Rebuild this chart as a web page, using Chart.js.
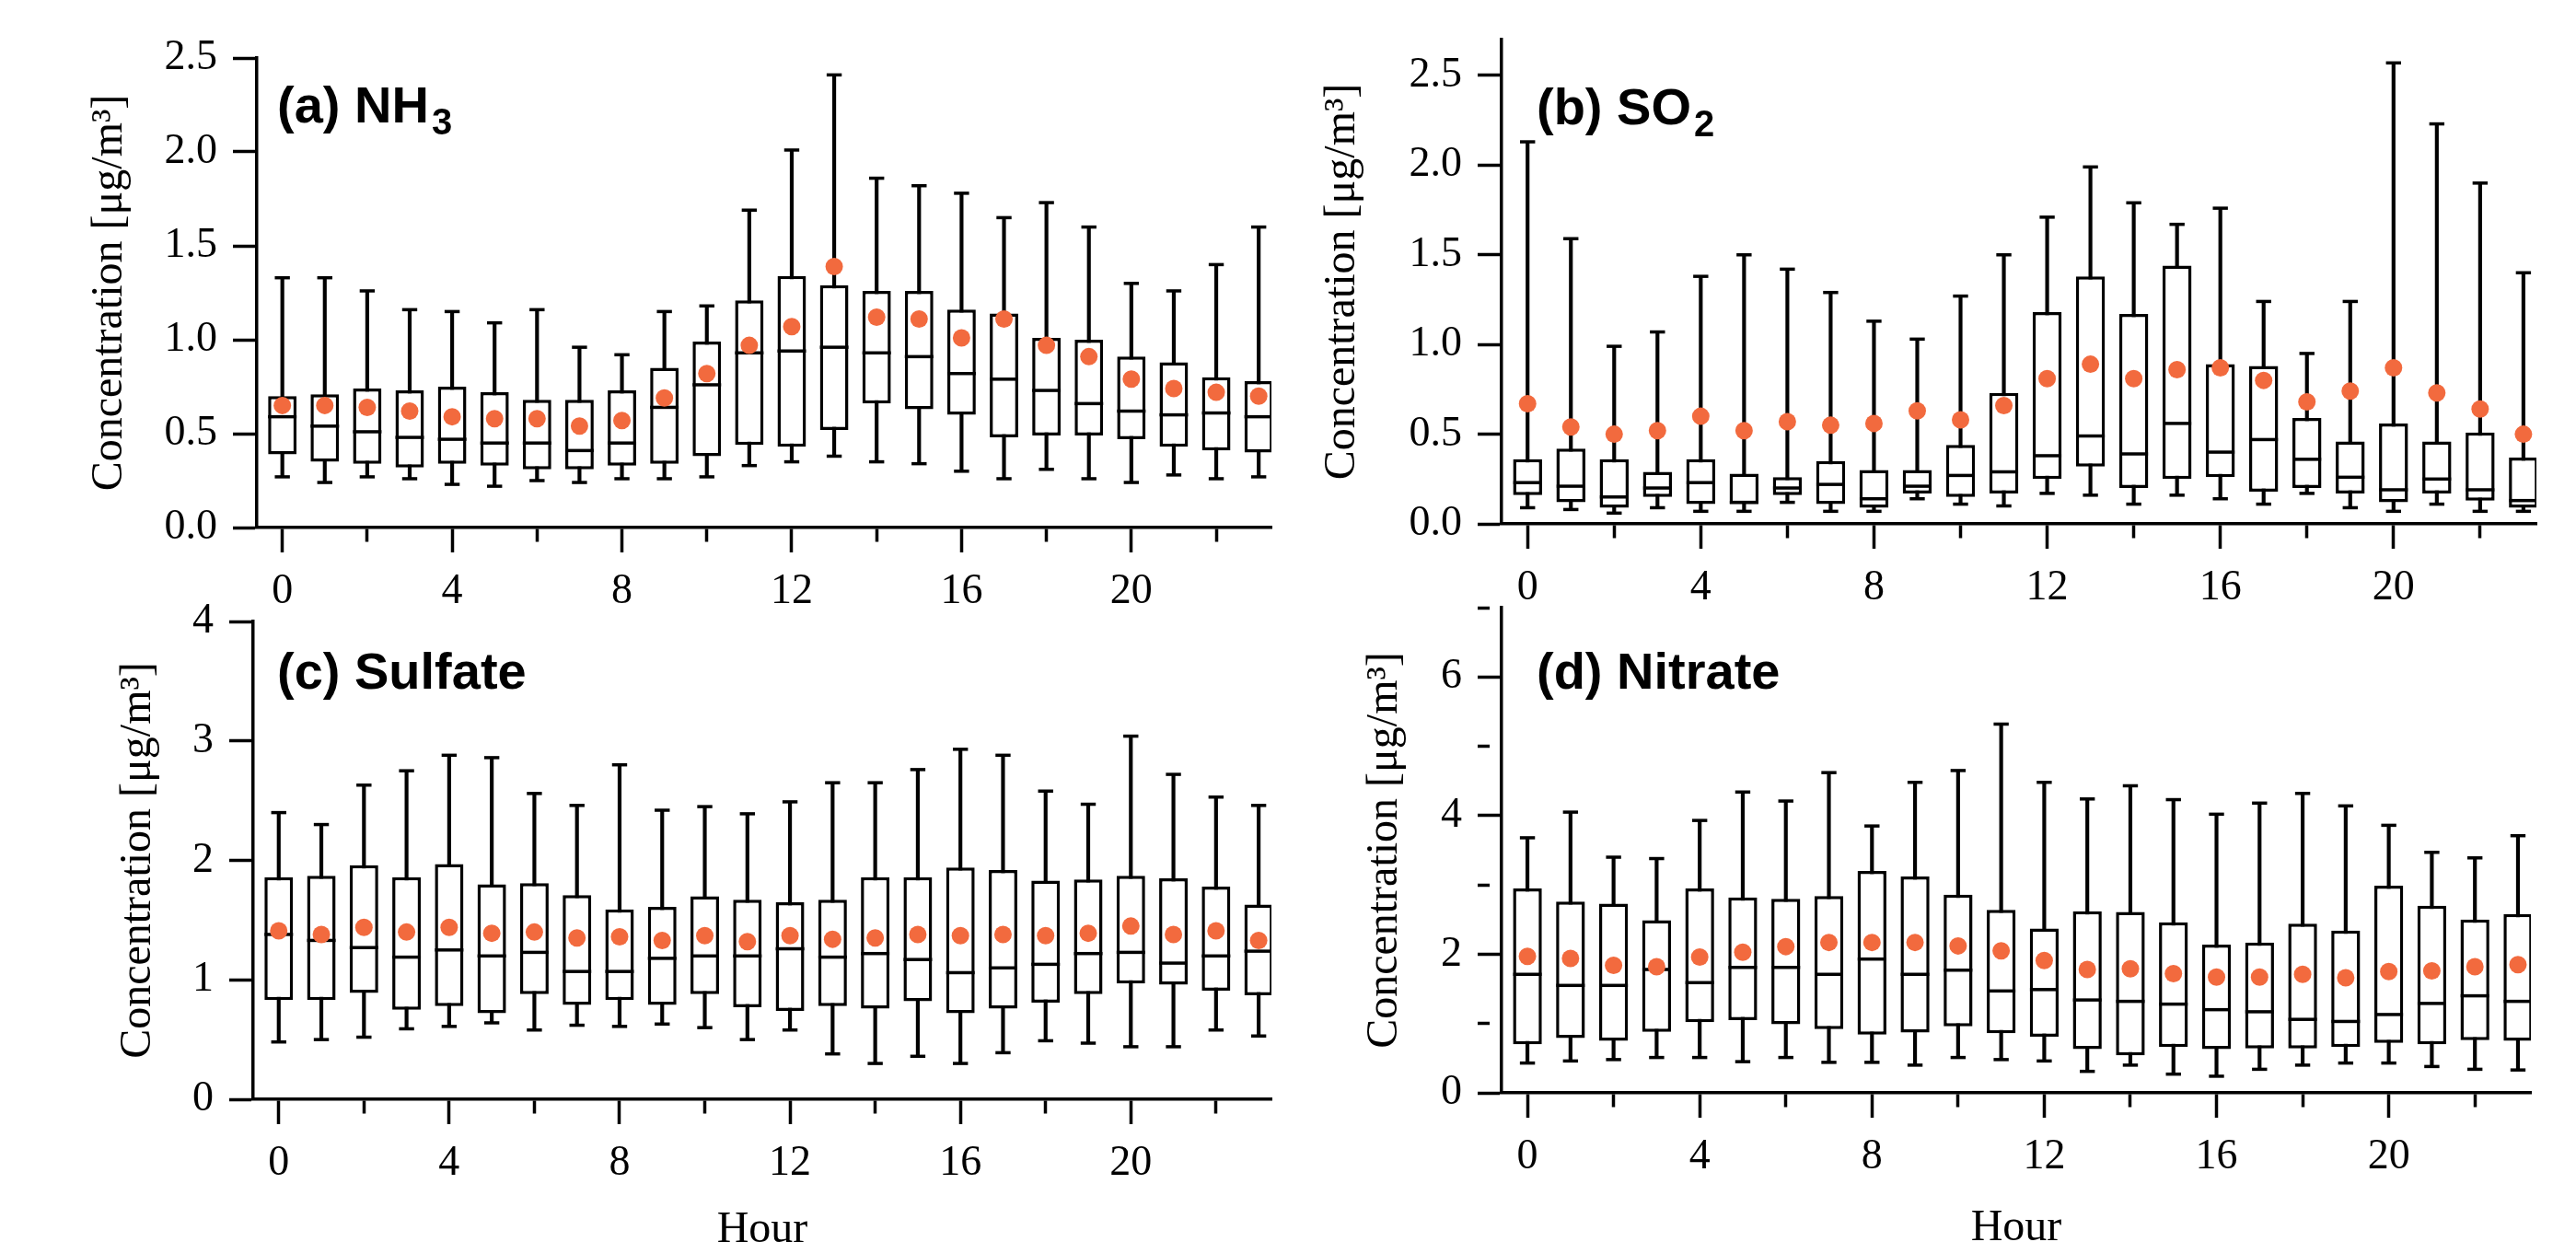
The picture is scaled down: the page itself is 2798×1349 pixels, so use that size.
<!DOCTYPE html>
<html>
<head>
<meta charset="utf-8">
<script src="https://cdn.jsdelivr.net/npm/chart.js@4"></script>
<style>
html, body { margin: 0; padding: 0; background: #fff; width: 2798px; height: 1349px; overflow: hidden; }
canvas { position: absolute; }
</style>
</head>
<body>
<canvas id="chartNH3" width="1400" height="675" style="left:0px;top:0px"></canvas>
<canvas id="chartSO2" width="1398" height="685" style="left:1400px;top:-10px"></canvas>
<canvas id="chartSulfate" width="1400" height="760" style="left:0px;top:620px"></canvas>
<canvas id="chartNitrate" width="1398" height="770" style="left:1400px;top:610px"></canvas>
<script>
var hours = [0, 1, 2, 3, 4, 5, 6, 7, 8, 9, 10, 11, 12, 13, 14, 15, 16, 17, 18, 19, 20, 21, 22, 23];

// (a) NH3
var nh3Min  = [0.27, 0.24, 0.27, 0.26, 0.23, 0.22, 0.25, 0.24, 0.26, 0.26, 0.27, 0.33, 0.35, 0.38, 0.35, 0.34, 0.30, 0.26, 0.31, 0.26, 0.24, 0.28, 0.26, 0.27];
var nh3Q1   = [0.39, 0.35, 0.34, 0.32, 0.34, 0.33, 0.31, 0.31, 0.33, 0.34, 0.38, 0.44, 0.43, 0.52, 0.66, 0.63, 0.60, 0.48, 0.49, 0.49, 0.47, 0.43, 0.41, 0.40];
var nh3Med  = [0.59, 0.54, 0.51, 0.48, 0.47, 0.45, 0.45, 0.41, 0.45, 0.64, 0.76, 0.93, 0.94, 0.96, 0.93, 0.91, 0.82, 0.79, 0.73, 0.66, 0.62, 0.60, 0.61, 0.59];
var nh3Q3   = [0.70, 0.71, 0.74, 0.73, 0.75, 0.72, 0.68, 0.68, 0.73, 0.85, 0.99, 1.21, 1.34, 1.29, 1.26, 1.26, 1.16, 1.14, 1.01, 1.00, 0.91, 0.88, 0.80, 0.78];
var nh3Max  = [1.33, 1.33, 1.26, 1.16, 1.15, 1.09, 1.16, 0.96, 0.92, 1.15, 1.18, 1.69, 2.01, 2.41, 1.86, 1.82, 1.78, 1.65, 1.73, 1.60, 1.30, 1.26, 1.40, 1.60];
var nh3Mean = [0.65, 0.65, 0.64, 0.62, 0.59, 0.58, 0.58, 0.54, 0.57, 0.69, 0.82, 0.97, 1.07, 1.39, 1.12, 1.11, 1.01, 1.11, 0.97, 0.91, 0.79, 0.74, 0.72, 0.70];

// (b) SO2
var so2Min  = [0.09, 0.08, 0.06, 0.09, 0.07, 0.07, 0.12, 0.07, 0.07, 0.14, 0.11, 0.10, 0.17, 0.16, 0.11, 0.16, 0.14, 0.11, 0.17, 0.09, 0.07, 0.11, 0.07, 0.07];
var so2Q1   = [0.16, 0.12, 0.09, 0.15, 0.11, 0.11, 0.16, 0.11, 0.09, 0.17, 0.15, 0.17, 0.25, 0.32, 0.20, 0.25, 0.26, 0.18, 0.20, 0.17, 0.12, 0.17, 0.13, 0.09];
var so2Med  = [0.23, 0.21, 0.15, 0.20, 0.23, 0.12, 0.20, 0.22, 0.14, 0.21, 0.27, 0.29, 0.38, 0.49, 0.39, 0.56, 0.40, 0.47, 0.36, 0.26, 0.19, 0.25, 0.19, 0.13];
var so2Q3   = [0.36, 0.42, 0.36, 0.29, 0.36, 0.28, 0.26, 0.35, 0.30, 0.30, 0.44, 0.73, 1.18, 1.38, 1.17, 1.44, 0.89, 0.88, 0.59, 0.46, 0.56, 0.46, 0.51, 0.37];
var so2Max  = [2.13, 1.59, 0.99, 1.07, 1.38, 1.50, 1.42, 1.29, 1.13, 1.03, 1.27, 1.50, 1.71, 1.99, 1.79, 1.67, 1.76, 1.24, 0.95, 1.24, 2.57, 2.23, 1.90, 1.40];
var so2Mean = [0.67, 0.54, 0.50, 0.52, 0.60, 0.52, 0.57, 0.55, 0.56, 0.63, 0.58, 0.66, 0.81, 0.89, 0.81, 0.86, 0.87, 0.80, 0.68, 0.74, 0.87, 0.73, 0.64, 0.50];

// (c) Sulfate
var sulMin  = [0.48, 0.50, 0.52, 0.59, 0.61, 0.64, 0.58, 0.62, 0.61, 0.63, 0.60, 0.50, 0.58, 0.38, 0.30, 0.36, 0.30, 0.39, 0.49, 0.47, 0.44, 0.44, 0.58, 0.53];
var sulQ1   = [0.83, 0.83, 0.89, 0.75, 0.78, 0.72, 0.88, 0.79, 0.83, 0.79, 0.88, 0.77, 0.74, 0.78, 0.76, 0.82, 0.72, 0.76, 0.81, 0.88, 0.97, 0.96, 0.91, 0.87];
var sulMed  = [1.38, 1.33, 1.27, 1.19, 1.25, 1.20, 1.23, 1.07, 1.07, 1.18, 1.20, 1.20, 1.26, 1.19, 1.22, 1.17, 1.06, 1.10, 1.13, 1.22, 1.23, 1.14, 1.20, 1.24];
var sulQ3   = [1.86, 1.87, 1.96, 1.86, 1.97, 1.80, 1.81, 1.71, 1.59, 1.61, 1.70, 1.67, 1.65, 1.67, 1.86, 1.86, 1.94, 1.92, 1.83, 1.84, 1.87, 1.85, 1.78, 1.63];
var sulMax  = [2.40, 2.30, 2.63, 2.75, 2.88, 2.86, 2.56, 2.46, 2.80, 2.42, 2.45, 2.39, 2.49, 2.65, 2.65, 2.76, 2.93, 2.88, 2.58, 2.47, 3.04, 2.72, 2.53, 2.46];
var sulMean = [1.41, 1.38, 1.44, 1.40, 1.44, 1.39, 1.40, 1.35, 1.36, 1.33, 1.37, 1.32, 1.37, 1.34, 1.35, 1.38, 1.37, 1.38, 1.37, 1.39, 1.45, 1.38, 1.41, 1.33];

// (d) Nitrate
var nitMin  = [0.43, 0.46, 0.48, 0.51, 0.51, 0.45, 0.51, 0.44, 0.44, 0.40, 0.51, 0.48, 0.46, 0.31, 0.40, 0.27, 0.24, 0.34, 0.40, 0.43, 0.43, 0.38, 0.34, 0.33];
var nitQ1   = [0.70, 0.79, 0.75, 0.88, 1.02, 1.05, 0.99, 0.92, 0.84, 0.87, 0.96, 0.86, 0.81, 0.63, 0.54, 0.66, 0.63, 0.64, 0.64, 0.66, 0.72, 0.70, 0.76, 0.75];
var nitMed  = [1.71, 1.55, 1.55, 1.78, 1.59, 1.81, 1.81, 1.71, 1.93, 1.71, 1.77, 1.47, 1.49, 1.34, 1.32, 1.28, 1.20, 1.17, 1.06, 1.03, 1.13, 1.29, 1.40, 1.32];
var nitQ3   = [2.95, 2.76, 2.73, 2.49, 2.95, 2.82, 2.80, 2.84, 3.20, 3.12, 2.86, 2.64, 2.37, 2.62, 2.61, 2.46, 2.14, 2.17, 2.44, 2.34, 2.99, 2.70, 2.50, 2.58];
var nitMax  = [3.68, 4.05, 3.40, 3.38, 3.93, 4.34, 4.21, 4.62, 3.85, 4.48, 4.65, 5.32, 4.48, 4.24, 4.43, 4.23, 4.02, 4.18, 4.32, 4.14, 3.86, 3.47, 3.39, 3.71];
var nitMean = [1.97, 1.94, 1.84, 1.82, 1.96, 2.03, 2.11, 2.17, 2.17, 2.17, 2.12, 2.05, 1.91, 1.78, 1.79, 1.72, 1.67, 1.67, 1.71, 1.66, 1.75, 1.76, 1.82, 1.85];

var meanColor = '#F26A3E';
var serif = "'Liberation Serif', 'Times New Roman', serif";
var lw = 3.5;

// bold panel label with a subscript, e.g. (a) NH + 3
var panelTitle = {
    id: 'panelTitle',
    afterDraw: function(chart, args, opts) {
        var ctx = chart.ctx;
        ctx.save();
        ctx.fillStyle = '#000';
        ctx.textBaseline = 'alphabetic';
        ctx.textAlign = 'left';
        ctx.font = "bold 56px 'Liberation Sans', Arial, sans-serif";
        ctx.fillText(opts.text, opts.x, opts.y);
        if (opts.sub) {
            var w = ctx.measureText(opts.text).width;
            ctx.font = "bold 40px 'Liberation Sans', Arial, sans-serif";
            ctx.fillText(opts.sub, opts.x + w + 3, opts.y + 13);
        }
        ctx.restore();
    }
};

function points(vals) {
    return hours.map(function(h, i) { return {x: h, y: vals[i]}; });
}

function ranges(lo, hi) {
    return hours.map(function(h, i) { return {x: h, y: [lo[i], hi[i]]}; });
}

function boxDatasets(lo, q1, med, q3, hi, mean) {
    return [
        { type: 'bar', label: 'whisker', data: ranges(lo, hi), backgroundColor: '#000',
          borderWidth: 0, barThickness: lw, grouped: false, order: 5 },
        { type: 'bar', label: 'box', data: ranges(q1, q3), backgroundColor: '#fff', borderColor: '#000',
          borderWidth: lw, borderSkipped: false, barPercentage: 0.67, categoryPercentage: 1,
          grouped: false, order: 4 },
        { type: 'scatter', label: 'caps', data: points(lo).concat(points(hi)), pointStyle: 'line',
          pointRadius: 8.2, pointBorderColor: '#000', pointBorderWidth: lw, order: 3 },
        { type: 'scatter', label: 'median', data: points(med), pointStyle: 'line',
          pointRadius: 15.5, pointBorderColor: '#000', pointBorderWidth: lw, order: 2 },
        { type: 'scatter', label: 'mean', data: points(mean), pointStyle: 'circle',
          pointRadius: 9.5, pointBackgroundColor: meanColor, pointBorderWidth: 0, order: 1 }
    ];
}

function boxChart(id, data, o) {
    new Chart(document.getElementById(id), {
        type: 'bar',
        data: { datasets: data },
        plugins: [panelTitle],
        options: {
            responsive: false,
            animation: false,
            events: [],
            layout: { padding: { left: 0, top: o.top, right: o.right, bottom: 0 } },
            plugins: {
                legend: { display: false },
                tooltip: { enabled: false },
                panelTitle: { text: o.title, sub: o.sub, x: o.titleX, y: o.titleY }
            },
            scales: {
                x: {
                    type: 'linear',
                    min: -0.6,
                    max: 23.3,
                    offset: false,
                    afterFit: function(s) { s.height = o.xh; },
                    border: { display: true, color: '#000', width: lw },
                    grid: {
                        drawOnChartArea: false, offset: false, tickLength: 27, tickWidth: lw, tickColor: '#000',
                        tickBorderDash: function(c) { return c.tick && c.tick.value % 4 !== 0 ? [14, 100] : []; }
                    },
                    ticks: {
                        stepSize: 2, includeBounds: false, autoSkip: false, maxRotation: 0, padding: 15,
                        color: '#000', font: { family: serif, size: 46 },
                        callback: function(v) { return v % 4 === 0 ? String(v) : ''; }
                    },
                    title: {
                        display: !!o.hour, text: 'Hour', color: '#000',
                        font: { family: serif, size: 48 }, padding: { top: 0, bottom: o.hourPad || 0 }
                    }
                },
                y: {
                    min: 0,
                    max: o.ymax,
                    afterFit: function(s) { s.width = o.yw; },
                    border: { display: true, color: '#000', width: lw },
                    grid: {
                        drawOnChartArea: false, tickLength: 26, tickWidth: lw, tickColor: '#000',
                        tickBorderDash: function(c) { return o.minorY && c.tick && c.tick.value % 2 !== 0 ? [13, 100] : []; }
                    },
                    ticks: {
                        stepSize: o.step, includeBounds: false, autoSkip: false, padding: 17,
                        color: '#000', font: { family: serif, size: 46 },
                        callback: o.fmt
                    },
                    title: {
                        display: true, text: 'Concentration [μg/m³]', color: '#000',
                        font: { family: serif, size: 48 }, padding: { top: o.ytPad, bottom: 0 }
                    }
                }
            }
        }
    });
}

function oneDecimal(v) { return v.toFixed(1); }
function integer(v) { return String(v); }
function evenOnly(v) { return v % 2 === 0 ? String(v) : ''; }

boxChart('chartNH3', boxDatasets(nh3Min, nh3Q1, nh3Med, nh3Q3, nh3Max, nh3Mean), {
    top: 63, right: 17, xh: 102, yw: 279, ymax: 2.5, step: 0.5, fmt: oneDecimal, ytPad: 91,
    title: '(a) NH', sub: '3', titleX: 301, titleY: 133
});

boxChart('chartSO2', boxDatasets(so2Min, so2Q1, so2Med, so2Q3, so2Max, so2Mean), {
    top: 53, right: 43, xh: 106, yw: 231, ymax: 2.7, step: 0.5, fmt: oneDecimal, ytPad: 30,
    title: '(b) SO', sub: '2', titleX: 269, titleY: 145
});

boxChart('chartSulfate', boxDatasets(sulMin, sulQ1, sulMed, sulQ3, sulMax, sulMean), {
    top: 55, right: 17, xh: 186, yw: 275, ymax: 4, step: 1, fmt: integer, ytPad: 122,
    hour: true, hourPad: 15,
    title: '(c) Sulfate', titleX: 301, titleY: 128
});

boxChart('chartNitrate', boxDatasets(nitMin, nitQ1, nitMed, nitQ3, nitMax, nitMean), {
    top: 50, right: 49, xh: 193, yw: 231, ymax: 7, step: 1, fmt: evenOnly, minorY: true, ytPad: 76,
    hour: true, hourPad: 17,
    title: '(d) Nitrate', titleX: 269, titleY: 138
});
</script>
</body>
</html>
